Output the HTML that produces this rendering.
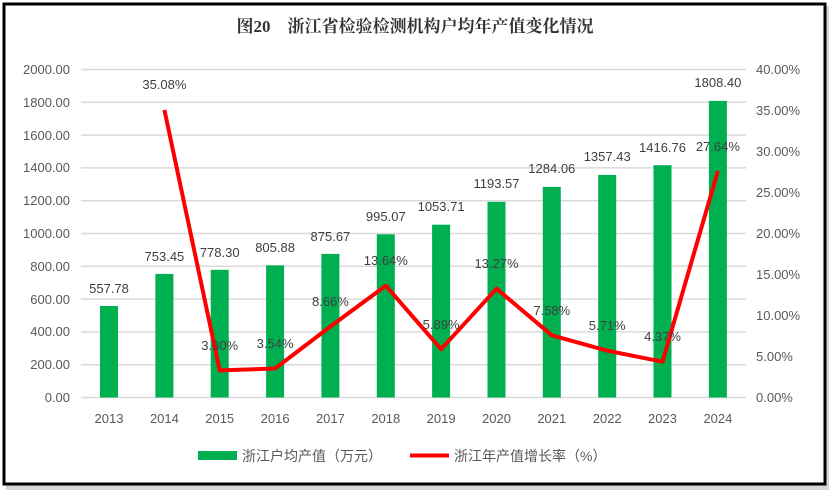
<!DOCTYPE html>
<html><head><meta charset="utf-8"><style>
body{margin:0;background:#fff;}
svg text{font-family:"Liberation Sans","Noto Sans CJK SC",sans-serif;}
</style></head><body>
<svg width="831" height="495" xmlns="http://www.w3.org/2000/svg">
<rect x="6" y="6" width="823" height="484" fill="#bbb" opacity="0.6"/>
<rect x="4" y="4" width="821" height="480" fill="#fff" stroke="#000" stroke-width="3"/>
<text x="415" y="32" font-size="17" font-weight="bold" text-anchor="middle" fill="#333" style="font-family:'Liberation Serif','Noto Serif CJK SC',serif">图20　浙江省检验检测机构户均年产值变化情况</text>
<g stroke="#d9d9d9" stroke-width="1.5">
<line x1="81" x2="746" y1="69.5" y2="69.5"/><line x1="81" x2="746" y1="102.3" y2="102.3"/>
<line x1="81" x2="746" y1="135.1" y2="135.1"/><line x1="81" x2="746" y1="167.9" y2="167.9"/>
<line x1="81" x2="746" y1="200.7" y2="200.7"/><line x1="81" x2="746" y1="233.5" y2="233.5"/>
<line x1="81" x2="746" y1="266.3" y2="266.3"/><line x1="81" x2="746" y1="299.1" y2="299.1"/>
<line x1="81" x2="746" y1="331.9" y2="331.9"/><line x1="81" x2="746" y1="364.7" y2="364.7"/>
<line x1="81" x2="746" y1="397.5" y2="397.5"/>
</g>
<g font-size="13" fill="#595959" text-anchor="end">
<text x="70" y="74">2000.00</text><text x="70" y="107">1800.00</text><text x="70" y="140">1600.00</text>
<text x="70" y="172">1400.00</text><text x="70" y="205">1200.00</text><text x="70" y="238">1000.00</text>
<text x="70" y="271">800.00</text><text x="70" y="304">600.00</text><text x="70" y="336">400.00</text>
<text x="70" y="369">200.00</text><text x="70" y="402">0.00</text>
</g>
<g font-size="13" fill="#595959" text-anchor="start">
<text x="756" y="74">40.00%</text><text x="756" y="115">35.00%</text><text x="756" y="156">30.00%</text>
<text x="756" y="197">25.00%</text><text x="756" y="238">20.00%</text><text x="756" y="279">15.00%</text>
<text x="756" y="320">10.00%</text><text x="756" y="361">5.00%</text><text x="756" y="402">0.00%</text>
</g>
<g fill="#00b050">
<rect x="100" y="306" width="18" height="91.5"/>
<rect x="155.4" y="273.9" width="18" height="123.6"/>
<rect x="210.7" y="269.8" width="18" height="127.7"/>
<rect x="266.1" y="265.3" width="18" height="132.2"/>
<rect x="321.4" y="253.9" width="18" height="143.6"/>
<rect x="376.8" y="234.3" width="18" height="163.2"/>
<rect x="432.1" y="224.7" width="18" height="172.8"/>
<rect x="487.5" y="201.8" width="18" height="195.7"/>
<rect x="542.8" y="186.9" width="18" height="210.6"/>
<rect x="598.2" y="174.9" width="18" height="222.6"/>
<rect x="653.5" y="165.2" width="18" height="232.3"/>
<rect x="708.9" y="100.9" width="18" height="296.6"/>
</g>
<polyline fill="none" stroke="#ff0000" stroke-width="4" stroke-linejoin="round" points="164.4,109.9 219.7,370.4 275.1,368.5 330.4,326.5 385.8,285.7 441.1,349.2 496.5,288.7 551.8,335.3 607.2,350.7 662.5,361.7 717.9,170.9"/>
<g font-size="13" fill="#404040" text-anchor="middle">
<text x="109" y="293">557.78</text><text x="164.4" y="261">753.45</text><text x="219.7" y="257">778.30</text>
<text x="275.1" y="252">805.88</text><text x="330.4" y="241">875.67</text><text x="385.8" y="221">995.07</text>
<text x="441.1" y="211">1053.71</text><text x="496.5" y="188">1193.57</text><text x="551.8" y="173">1284.06</text>
<text x="607.2" y="161">1357.43</text><text x="662.5" y="152">1416.76</text><text x="717.9" y="87">1808.40</text>
<text x="164.4" y="89">35.08%</text><text x="219.7" y="350">3.30%</text><text x="275.1" y="348">3.54%</text>
<text x="330.4" y="306">8.66%</text><text x="385.8" y="265">13.64%</text><text x="441.1" y="329">5.89%</text>
<text x="496.5" y="268">13.27%</text><text x="551.8" y="315">7.58%</text><text x="607.2" y="330">5.71%</text>
<text x="662.5" y="341">4.37%</text><text x="717.9" y="151">27.64%</text>
</g>
<g font-size="13" fill="#595959" text-anchor="middle">
<text x="109" y="423">2013</text><text x="164.4" y="423">2014</text><text x="219.7" y="423">2015</text>
<text x="275.1" y="423">2016</text><text x="330.4" y="423">2017</text><text x="385.8" y="423">2018</text>
<text x="441.1" y="423">2019</text><text x="496.5" y="423">2020</text><text x="551.8" y="423">2021</text>
<text x="607.2" y="423">2022</text><text x="662.5" y="423">2023</text><text x="717.9" y="423">2024</text>
</g>
<rect x="198" y="451" width="39" height="9" fill="#00b050"/>
<text x="242" y="461" font-size="14" fill="#595959">浙江户均产值（万元）</text>
<line x1="410" x2="449" y1="455.5" y2="455.5" stroke="#ff0000" stroke-width="4"/>
<text x="454" y="461" font-size="14" fill="#595959">浙江年产值增长率（%）</text>
</svg>
</body></html>
